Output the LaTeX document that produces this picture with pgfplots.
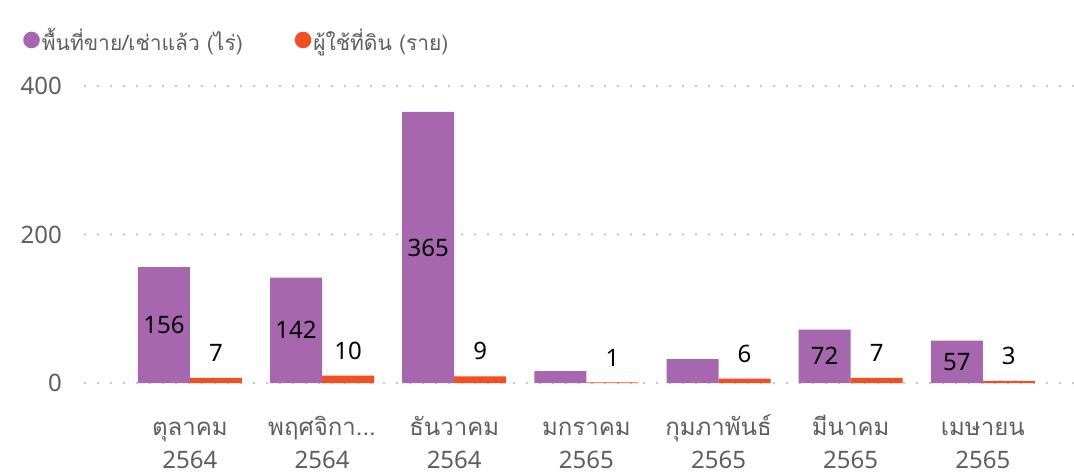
\documentclass[border=0pt]{standalone}
\usepackage{fontspec}
\usepackage{pgfplots}
\pgfplotsset{compat=1.18}
\setmainfont{Noto Sans}
\newfontfamily\thaifont[Script=Thai]{Loma}
\definecolor{barpurple}{HTML}{A667AE}
\definecolor{barorange}{HTML}{F25022}
\definecolor{txtgray}{HTML}{605E5C}
\definecolor{gridgray}{HTML}{C8C6C4}
\newcommand{\tl}[2]{\rule{0pt}{26pt}{\thaifont #1}\\#2}

\pgfplotstableread{
x y
0 156
1 142
2 365
3 16
4 32
5 72
6 57
}\landdata
\pgfplotstableread{
x y
0 7
1 10
2 9
3 1
4 6
5 7
6 3
}\userdata

\begin{document}
\begin{tikzpicture}
\useasboundingbox (0,0) rectangle (1074pt,475pt);
\begin{axis}[
  at={(85pt,92pt)}, anchor=south west,
  scale only axis, width=989pt, height=297pt,
  xmin=-0.794, xmax=6.69, ymin=0, ymax=400,
  /pgf/number format/assume math mode=true,
  ybar=0pt, bar width=52pt,
  axis line style={draw=none},
  tick style={draw=none},
  ytick={0,200,400},
  ymajorgrids,
  major grid style={gridgray, line width=2.6pt, line cap=round, dash pattern=on 0pt off 13pt},
  yticklabel style={font=\fontsize{24}{28}\selectfont, text=txtgray, inner sep=0pt, xshift=-23pt},
  xtick={0,...,6},
  xticklabels={
    {\tl{ตุลาคม}{2564}},
    {\tl{พฤศจิกา...}{2564}},
    {\tl{ธันวาคม}{2564}},
    {\tl{มกราคม}{2565}},
    {\tl{กุมภาพันธ์}{2565}},
    {\tl{มีนาคม}{2565}},
    {\tl{เมษายน}{2565}}},
  xticklabel style={font=\fontsize{24}{33}\selectfont, text=txtgray, align=center, inner sep=0pt, anchor=north, yshift=-22pt},
  legend style={at={(-0.0657,1.155)}, anchor=west, draw=none, fill=none,
    legend columns=-1, font=\fontsize{21}{25}\selectfont\thaifont, text=txtgray,
    /tikz/every even column/.append style={column sep=50pt},
    /tikz/every odd column/.append style={column sep=0pt}},
  legend image code/.code={\fill[#1] (0pt,0pt) circle (8.3pt);},
]
\addplot[fill=barpurple, draw=none,
  visualization depends on={y \as \rawy},
  point meta=y,
  nodes near coords={\ifdim\rawy pt<40pt\relax\else\pgfmathprintnumber{\rawy}\fi},
  every node near coord/.append style={font=\fontsize{24}{28}\selectfont, text=black, anchor=center, yshift={-0.37125pt*\rawy}}]
  table[x=x,y=y]{\landdata};
\addlegendentry{พื้นที่ขาย/เช่าแล้ว (ไร่)}
\addplot[fill=barorange, draw=none,
  point meta=y,
  nodes near coords,
  every node near coord/.append style={font=\fontsize{24}{28}\selectfont, text=black, anchor=south, inner sep=0pt, yshift=16pt}]
  table[x=x,y=y]{\userdata};
\addlegendentry{ผู้ใช้ที่ดิน (ราย)}
\end{axis}
\end{tikzpicture}
\end{document}
